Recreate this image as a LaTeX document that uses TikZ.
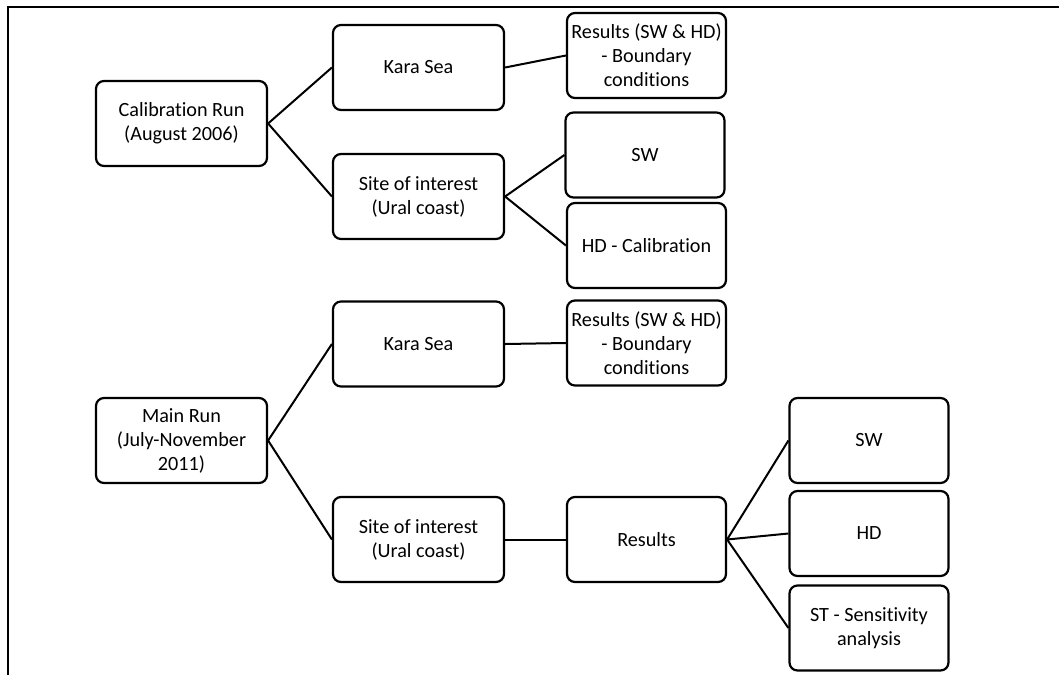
\documentclass[tikz,border=0pt]{standalone}
\usepackage{fontspec}
\setmainfont{Carlito}[Ligatures=NoCommon]
\begin{document}
\begin{tikzpicture}[x=1pt,y=-1pt,
  box/.style={draw, line width=2.2pt, rounded corners=8pt, inner sep=0pt,
    align=center, font=\fontsize{20.2}{24}\selectfont, minimum height=85pt},
  wide/.style={box, minimum width=171pt},
  narrow/.style={box, minimum width=159pt},
  link/.style={line width=2pt}]
\useasboundingbox (0,0) rectangle (1059,675);
\draw[line width=2pt] (8,675) -- (8,7) -- (1059,7);

\node[wide] (cal) at (181.5,123.5) {Calibration Run\\(August 2006)};
\node[wide] (kara1) at (418.5,67.5) {Kara Sea};
\node[wide] (site1) at (418.5,196.5) {Site of interest\\(Ural coast)};
\node[narrow] (res1) at (646.5,55.5) {Results (SW \& HD)\\- Boundary\\conditions};
\node[narrow] (sw1) at (645,155) {SW};
\node[narrow] (hdc) at (646.5,245.5) {HD - Calibration};

\node[wide] (main) at (181.5,440.5) {Main Run\\(July-November\\2011)};
\node[wide] (kara2) at (418.5,344) {Kara Sea};
\node[narrow] (res2) at (646.5,343) {Results (SW \& HD)\\- Boundary\\conditions};
\node[wide] (site2) at (418.5,539.5) {Site of interest\\(Ural coast)};
\node[narrow] (res) at (646.5,539.5) {Results};
\node[narrow] (sw2) at (869,440.5) {SW};
\node[narrow] (hd2) at (869,533.5) {HD};
\node[narrow] (st) at (869,628) {ST - Sensitivity\\analysis};

\draw[link] (cal.east) -- (kara1.west);
\draw[link] (cal.east) -- (site1.west);
\draw[link] (kara1.east) -- (res1.west);
\draw[link] (site1.east) -- (sw1.west);
\draw[link] (site1.east) -- (hdc.west);
\draw[link] (main.east) -- (kara2.west);
\draw[link] (main.east) -- (site2.west);
\draw[link] (kara2.east) -- (res2.west);
\draw[link] (site2.east) -- (res.west);
\draw[link] (res.east) -- (sw2.west);
\draw[link] (res.east) -- (hd2.west);
\draw[link] (res.east) -- (st.west);
\end{tikzpicture}
\end{document}
